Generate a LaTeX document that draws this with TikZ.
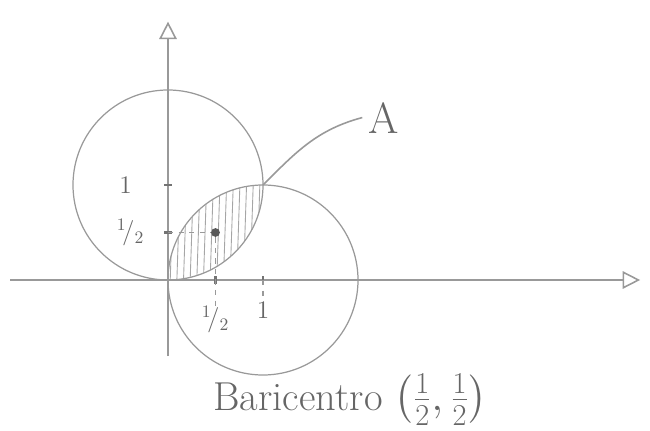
\documentclass[tikz,border=0pt]{standalone}
\usepackage{amsmath,amsfonts,amssymb}
\usepackage{xcolor}
\usepackage{tikz}
\usetikzlibrary{arrows.meta,positioning}

\begin{document}
\begin{tikzpicture}[
    x=1.9cm, y=1.9cm,
    pencil/.style={draw=black!40, line width=0.9pt},
    axis/.style={pencil, -{Triangle[open, length=0.35cm, width=0.35cm]}},
    circ/.style={draw=black!40, line width=0.7pt},
    hatch/.style={draw=black!35, line width=0.5pt},
    guide/.style={draw=black!40, dashed, line width=0.6pt},
    tickmark/.style={draw=black!55, line width=1.3pt},
    lbl/.style={text=black!60, font=\Large},
    node distance=0.4cm and 0.5cm
]
\useasboundingbox (-3.36cm,-3cm) rectangle (9.64cm,5.6cm);

\coordinate (o) at (0,0);
\coordinate (xl) at (-1.66,0);
\coordinate (xr) at (4.97,0);
\coordinate (yb) at (0,-0.8);
\coordinate (yt) at (0,2.72);
\coordinate (cu) at (0,1);
\coordinate (cd) at (1,0);
\coordinate (isec) at (1,1);
\coordinate (txh) at (0.5,0);
\coordinate (tx1) at (1,0);
\coordinate (tyh) at (0,0.5);
\coordinate (ty1) at (0,1);
\coordinate (gh) at (0.5,-0.32);
\coordinate (g1) at (1,-0.2);

% shaded lens
\begin{scope}
  \clip (o) arc[start angle=-90, end angle=0, radius=1]
            arc[start angle=90, end angle=180, radius=1] -- cycle;
  \foreach \i in {-0.05,0.02,...,1.05}
    \draw[hatch] (\i,-0.1) -- (\i+0.04,1.1);
\end{scope}

\draw[circ] (cu) circle[radius=1];
\draw[circ] (cd) circle[radius=1];

\draw[axis] (xl) -- (xr);
\draw[axis] (yb) -- (yt);

\foreach \t in {txh,tx1}
  \draw[tickmark] ([yshift=-2pt]\t) -- ([yshift=2pt]\t);
\foreach \t in {tyh,ty1}
  \draw[tickmark] ([xshift=-2pt]\t) -- ([xshift=2pt]\t);

\node[circle, fill=black!65, inner sep=0pt, minimum size=5pt] (bar) at (0.5,0.5) {};

\draw[guide] (tyh) -- (bar);
\draw[guide] (bar) -- (gh);
\draw[guide] (tx1) -- (g1);

\node[lbl, left=0.6cm of ty1] (l1) {1};
\node[lbl, left=0.35cm of tyh] (lh) {${}^1\!/_2$};
\node[lbl, below=0.4cm of txh] (xh) {${}^1\!/_2$};
\node[lbl, below=0.3cm of tx1] (x1) {1};

\node[lbl, font=\Huge] (labA) at (2.27,1.71) {A};
\draw[pencil] (isec) to[out=45, in=195] (labA.west);

\node[lbl, font=\fontsize{23}{28}\selectfont] (bari) at (1.92,-1.26) {Baricentro $\left(\frac12,\frac12\right)$};

\end{tikzpicture}
\end{document}
